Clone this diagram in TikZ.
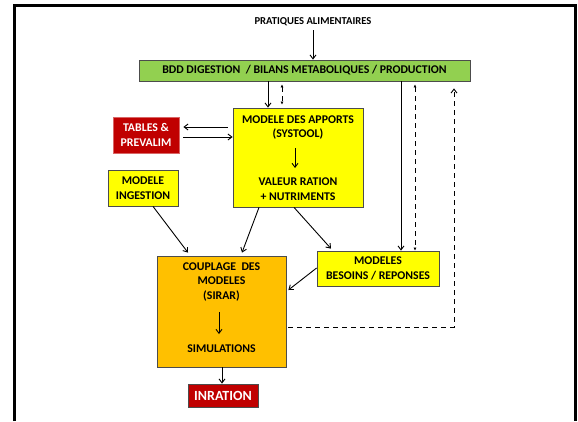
\documentclass[tikz,border=0pt]{standalone}
\usepackage{fontspec}
\setmainfont{Carlito}
\usetikzlibrary{arrows.meta}
\definecolor{bddgreen}{HTML}{92D050}
\definecolor{modyellow}{HTML}{FFFF00}
\definecolor{couporange}{HTML}{FFC000}
\definecolor{inrared}{HTML}{C00000}
\tikzset{
  box/.style={draw=black!70, line width=0.8pt, inner sep=0pt, align=center,
    font=\bfseries\fontsize{11.8}{14.5}\selectfont},
  txt/.style={inner sep=0pt, align=center, font=\bfseries\fontsize{11.8}{14.5}\selectfont},
  flow/.style={line width=0.9pt, -{Straight Barb[length=4pt,width=6pt]}},
  feed/.style={line width=0.9pt, dashed, dash pattern=on 5pt off 4pt, -{Straight Barb[length=4pt,width=6pt]}},
  tiny/.style={line width=0.9pt, dashed, dash pattern=on 5pt off 4pt, {Latex[length=3pt,width=3pt]}-{Latex[length=3pt,width=3pt]}}
}
\begin{document}
\begin{tikzpicture}[x=1pt,y=-1pt]
  \useasboundingbox (0,0) rectangle (578,421);
  % cadre
  \draw [line width=3pt] (14.5,421) -- (14.5,5.5) -- (575,5.5) -- (575,421);
  % boites
  \node (prat) at (313,22) [txt, font=\bfseries\fontsize{10.6}{13}\selectfont] {PRATIQUES ALIMENTAIRES};
  \node (bdd) at (304.5,70.5) [box, fill=bddgreen, minimum width=331pt, minimum height=21pt]
        {BDD DIGESTION~~/ BILANS METABOLIQUES / PRODUCTION};
  \node (tables) at (146,135) [box, draw=inrared!60, fill=inrared, text=white, minimum width=66pt, minimum height=36pt]
        {TABLES \&\\PREVALIM};
  \node (apports) at (298,157.5) [box, fill=modyellow, minimum width=130pt, minimum height=99pt] {};
  \node (apptitle) at (298,127.5) [txt] {MODELE DES APPORTS\\(SYSTOOL)};
  \node (appval) at (298,189) [txt] {VALEUR RATION\\+ NUTRIMENTS};
  \node (ingestion) at (143,188) [box, fill=modyellow, minimum width=70pt, minimum height=36pt]
        {MODELE\\INGESTION};
  \node (besoins) at (378,268.5) [box, fill=modyellow, minimum width=122pt, minimum height=35pt]
        {MODELES\\BESOINS / REPONSES};
  \node (couplage) at (221.5,311.5) [box, fill=couporange, minimum width=129pt, minimum height=111pt] {};
  \node (couptitle) at (221.5,282) [txt] {COUPLAGE~~DES\\MODELES\\(SIRAR)};
  \node (simul) at (221.5,349) [txt] {SIMULATIONS};
  \node (inration) at (223,395.5) [box, draw=black!70, fill=inrared, text=white, minimum width=70pt, minimum height=23pt,
        font=\bfseries\fontsize{14}{16}\selectfont] {INRATION};
  % fleches
  \draw [flow] (prat.south -| 313,0) ++(0,4) -- (bdd.north -| 313,0);
  \draw [flow] (bdd.south -| 268,0) -- (apports.north -| 268,0);
  \draw [tiny] (bdd.south -| 282,0) ++(0,3) -- ([yshift=3pt]apports.north -| 282,0);
  \draw [flow] ([xshift=-5pt]apports.west |- 0,127) -- ([xshift=4pt]tables.east |- 0,127);
  \draw [flow] ([xshift=4pt]tables.east |- 0,137) -- (apports.west |- 0,137);
  \draw [flow] (295,148) -- (295,168);
  \draw [flow] (ingestion.south -| 153,0) -- ([yshift=3pt]couplage.north -| 188,0);
  \draw [flow] (apports.south -| 259,0) -- ([yshift=3pt]couplage.north -| 242,0);
  \draw [flow] (apports.south -| 294,0) -- ([yshift=2pt]besoins.north -| 331,0);
  \draw [flow] (besoins.west |- 0,268) -- ([xshift=2pt]couplage.east |- 0,290);
  \draw [flow] (bdd.south -| 401,0) -- (besoins.north -| 401,0);
  \draw [tiny] (bdd.south -| 415,0) ++(0,3) -- (besoins.north -| 415,0);
  \draw [feed] ([xshift=2pt]couplage.east |- 0,327) -- (454,327) -- ([yshift=-7pt]bdd.south -| 454,0);
  \draw [flow] (219,312) -- (219,334);
  \draw [flow] (couplage.south -| 222,0) -- (inration.north -| 222,0);
\end{tikzpicture}
\end{document}
